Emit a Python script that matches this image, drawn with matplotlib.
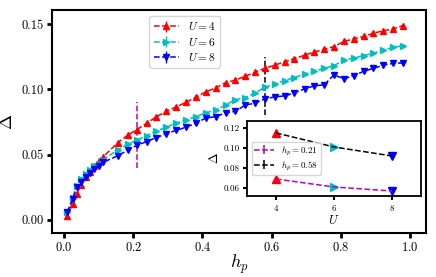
import numpy as np
import matplotlib.pyplot as plt

plt.rcParams['font.family'] = 'serif'
plt.rcParams['font.serif'] = ['cmr10', 'DejaVu Serif']
plt.rcParams['mathtext.fontset'] = 'cm'
plt.rcParams['axes.formatter.use_mathtext'] = True

# h_p grid
hp = [0.01, 0.025, 0.037, 0.05, 0.063, 0.076, 0.088, 0.1, 0.112, 0.155, 0.185,
      0.21, 0.239, 0.267, 0.296, 0.324, 0.353, 0.381, 0.41, 0.438, 0.467,
      0.495, 0.524, 0.552, 0.58, 0.609, 0.638, 0.666, 0.695, 0.723, 0.752,
      0.78, 0.809, 0.837, 0.866, 0.894, 0.923, 0.951, 0.98]

delta_u4 = [0.003, 0.012, 0.02, 0.027, 0.033, 0.037, 0.041, 0.045, 0.048, 0.059, 0.065,
            0.069, 0.074, 0.079, 0.083, 0.0865, 0.09, 0.094, 0.098, 0.101, 0.105,
            0.107, 0.110, 0.113, 0.116, 0.1185, 0.121, 0.1235, 0.126, 0.1285, 0.1305,
            0.1327, 0.1366, 0.1386, 0.1404, 0.143, 0.1447, 0.1462, 0.1488]

delta_u6 = [0.006, 0.017, 0.026, 0.031, 0.035, 0.038, 0.041, 0.043, 0.046, 0.0535, 0.058,
            0.061, 0.0645, 0.068, 0.071, 0.074, 0.0765, 0.079, 0.082, 0.084, 0.088,
            0.092, 0.0936, 0.097, 0.1016, 0.104, 0.1067, 0.109, 0.1115, 0.1138, 0.116,
            0.118, 0.1225, 0.1238, 0.1258, 0.1276, 0.130, 0.132, 0.1334]

delta_u8 = [0.006, 0.016, 0.025, 0.029, 0.033, 0.036, 0.039, 0.041, 0.044, 0.049, 0.0535,
            0.057, 0.060, 0.063, 0.066, 0.0685, 0.071, 0.074, 0.078, 0.079, 0.082,
            0.083, 0.088, 0.0893, 0.0926, 0.0942, 0.0949, 0.0972, 0.1003, 0.1026, 0.1034,
            0.111, 0.108, 0.1105, 0.1137, 0.116, 0.1185, 0.1198, 0.1202]

err = 0.0015

# inset: gap vs U at two cuts
U_vals = [4, 6, 8]
cut_021 = [0.069, 0.061, 0.057]
cut_058 = [0.115, 0.101, 0.092]

series = [
    (delta_u4, 'r', '^', r'$U=4$'),
    (delta_u6, 'c', '>', r'$U=6$'),
    (delta_u8, 'b', 'v', r'$U=8$'),
]

fig = plt.figure(figsize=(4.36, 2.77), dpi=100)
ax = fig.add_axes([0.119, 0.159, 0.858, 0.805])

for d, c, m, lab in series:
    ax.errorbar(hp, d, yerr=err, fmt='--', color=c, marker=m, markersize=4.5,
                linewidth=1.1, elinewidth=1.0, label=lab)

# cuts
ax.vlines(0.21, 0.04, 0.09, colors='m', linestyles='--', linewidth=1.1)
ax.vlines(0.58, 0.08, 0.125, colors='k', linestyles='--', linewidth=1.1)

ax.set_xlim(-0.035, 1.046)
ax.set_ylim(-0.01, 0.1607)
ax.set_xticks([0.0, 0.2, 0.4, 0.6, 0.8, 1.0])
ax.set_yticks([0.0, 0.05, 0.10, 0.15])
ax.set_yticklabels(['0.00', '0.05', '0.10', '0.15'])
ax.set_xlabel(r'$h_p$', fontsize=13, labelpad=-1)
ax.set_ylabel(r'$\Delta$', fontsize=13, labelpad=5)
ax.tick_params(direction='out', length=3.8, width=2, labelsize=9, pad=2)
for s in ax.spines.values():
    s.set_linewidth(1.5)

ax.legend(loc='upper left', bbox_to_anchor=(0.245, 1.0), fontsize=8.2,
          handlelength=2.2, labelspacing=0.3, borderpad=0.4)

# inset
ins = fig.add_axes([0.5665, 0.2924, 0.399, 0.271])
ins.errorbar(U_vals, cut_021, yerr=0.0005, fmt='--', color='m', linewidth=1.1,
             label=r'$h_p=0.21$')
ins.errorbar(U_vals, cut_058, yerr=0.0005, fmt='--', color='k', linewidth=1.1,
             label=r'$h_p=0.58$')
for i, (d, c, m, lab) in enumerate(series):
    ins.plot(U_vals[i], cut_021[i], linestyle='none', marker=m, color=c, markersize=6)
    ins.plot(U_vals[i], cut_058[i], linestyle='none', marker=m, color=c, markersize=6)

ins.set_xlim(3.0, 9.0)
ins.set_ylim(0.052, 0.127)
ins.set_xticks([4, 6, 8])
ins.set_yticks([0.06, 0.08, 0.10, 0.12])
ins.set_yticklabels(['0.06', '0.08', '0.10', '0.12'])
ins.set_xlabel(r'$U$', fontsize=9, labelpad=1)
ins.set_ylabel(r'$\Delta$', fontsize=9, labelpad=2)
ins.tick_params(direction='out', length=3, width=1.5, labelsize=6.5, pad=2)
for s in ins.spines.values():
    s.set_linewidth(1.3)
ins.legend(loc='center left', fontsize=6.5, handlelength=2.2, labelspacing=0.2,
           borderpad=0.3)

fig.savefig('out.png', dpi=100)
